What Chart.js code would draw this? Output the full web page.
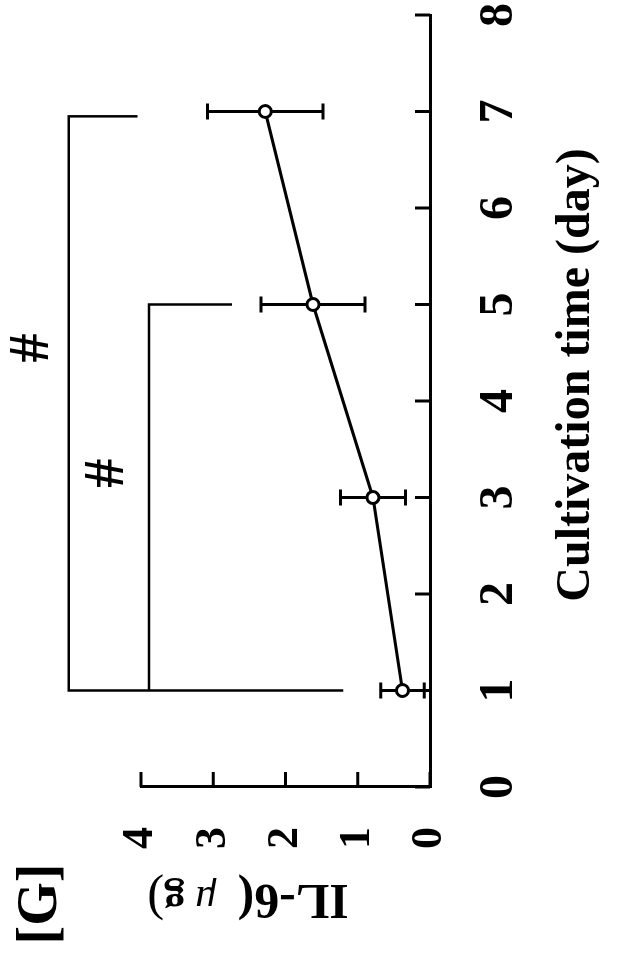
<!DOCTYPE html>
<html>
<head>
<meta charset="utf-8">
<title>IL-6 vs cultivation time</title>
<script src="https://cdn.jsdelivr.net/npm/chart.js@4.4.1/dist/chart.umd.min.js"></script>
<style>
    html, body { margin: 0; padding: 0; background: #fff; overflow: hidden; }
    /* the figure is printed sideways: draw it upright, then turn it a quarter left */
    #wrap {
        position: absolute; left: 0; top: 0;
        width: 957px; height: 617px;
        transform-origin: 0 0;
        transform: translate(0, 957px) rotate(-90deg);
    }
</style>
</head>
<body>
<div id="wrap"><canvas id="chart" width="957" height="617"></canvas></div>
<script>
// Data
const days = [1, 3, 5, 7];
const il6Mean = [0.38, 0.79, 1.62, 2.28];
const il6Err = [0.30, 0.45, 0.72, 0.80];

const dayTicks = [0, 1, 2, 3, 4, 5, 6, 7, 8];
const il6Ticks = [0, 1, 2, 3, 4];

// Significance brackets (day, IL-6)
const outerDays = [6.95, 6.95, 1, 1];
const outerLevels = [4.05, 5.0, 5.0, 1.2];
const innerDays = [5, 5, 1];
const innerLevels = [2.74, 3.89, 3.89];
const sigDays = [4.55, 3.25];
const sigLevels = [5.5, 4.45];

const SERIF = '"Liberation Serif", "DejaVu Serif", serif';

const toPoints = (xs, ys) => xs.map((x, i) => ({ x: x, y: ys[i] }));

// Inward tick marks on both axes
const inwardTicks = {
    id: 'inwardTicks',
    afterDraw(chart) {
        const { ctx, chartArea: a, scales: { x, y } } = chart;
        ctx.save();
        ctx.strokeStyle = '#000';
        ctx.lineWidth = 3;
        ctx.beginPath();
        dayTicks.forEach(v => {
            const px = x.getPixelForValue(v);
            ctx.moveTo(px, a.bottom);
            ctx.lineTo(px, a.bottom - 15);
        });
        il6Ticks.forEach(v => {
            const py = y.getPixelForValue(v);
            ctx.moveTo(a.left, py);
            ctx.lineTo(a.left + 15, py);
        });
        ctx.stroke();
        ctx.restore();
    }
};

// Error bars under the points
const errorBars = {
    id: 'errorBars',
    beforeDatasetsDraw(chart) {
        const { ctx, scales: { x, y } } = chart;
        ctx.save();
        ctx.strokeStyle = '#000';
        ctx.lineWidth = 3;
        ctx.beginPath();
        days.forEach((d, i) => {
            const px = x.getPixelForValue(d);
            const top = y.getPixelForValue(il6Mean[i] + il6Err[i]);
            const bot = y.getPixelForValue(Math.max(0, il6Mean[i] - il6Err[i]));
            ctx.moveTo(px, top);
            ctx.lineTo(px, bot);
            ctx.moveTo(px - 8, top);
            ctx.lineTo(px + 8, top);
            ctx.moveTo(px - 8, bot);
            ctx.lineTo(px + 8, bot);
        });
        ctx.stroke();
        ctx.restore();
    }
};

// Titles, panel letter and significance marks
const labels = {
    id: 'labels',
    afterDraw(chart) {
        const { ctx, scales: { x, y } } = chart;
        ctx.save();
        ctx.fillStyle = '#000';
        ctx.textBaseline = 'middle';
        ctx.textAlign = 'center';

        ctx.font = 'bold 48px ' + SERIF;
        ctx.fillText('Cultivation time (day)', 582, 577);

        ctx.font = 'bold 56px ' + SERIF;
        ctx.fillText('[G]', 53, 42);

        ctx.font = 'bold 58px ' + SERIF;
        sigDays.forEach((d, i) => {
            ctx.fillText('#', x.getPixelForValue(d), y.getPixelForValue(sigLevels[i]));
        });

        // y title with mixed fonts, turned like a normal y-axis title
        const parts = [
            ['IL-6(', 'bold 50px ' + SERIF],
            ['  \u03bc', 'italic 42px ' + SERIF],
            [' g', 'bold 42px ' + SERIF],
            [')', '50px ' + SERIF]
        ];
        let total = 0;
        parts.forEach(p => { ctx.font = p[1]; total += ctx.measureText(p[0]).width; });
        ctx.translate(59, 248);
        ctx.rotate(-Math.PI / 2);
        ctx.textAlign = 'left';
        let cx = -total / 2;
        parts.forEach(p => {
            ctx.font = p[1];
            ctx.fillText(p[0], cx, 0);
            cx += ctx.measureText(p[0]).width;
        });
        ctx.restore();
    }
};

const bracketStyle = {
    borderColor: '#000',
    borderWidth: 2.5,
    pointRadius: 0,
    fill: false,
    tension: 0,
    clip: false
};

new Chart(document.getElementById('chart'), {
    type: 'line',
    data: {
        datasets: [
            {
                label: 'IL-6',
                data: toPoints(days, il6Mean),
                borderColor: '#000',
                borderWidth: 3,
                pointRadius: 6,
                pointBorderWidth: 3,
                pointBackgroundColor: '#fff',
                pointBorderColor: '#000',
                tension: 0
            },
            Object.assign({ label: 'day 1 vs day 7', data: toPoints(outerDays, outerLevels) }, bracketStyle),
            Object.assign({ label: 'day 1 vs day 5', data: toPoints(innerDays, innerLevels) }, bracketStyle)
        ]
    },
    options: {
        responsive: false,
        animation: false,
        devicePixelRatio: 1,
        layout: { padding: { left: 0, top: 141, right: 15, bottom: 0 } },
        plugins: {
            legend: { display: false },
            tooltip: { enabled: false }
        },
        scales: {
            x: {
                type: 'linear',
                min: 0,
                max: 8,
                afterBuildTicks: s => { s.ticks = dayTicks.map(v => ({ value: v })); },
                afterFit: s => { s.height = 187; s.paddingLeft = 0; s.paddingRight = 0; },
                grid: { display: false, drawTicks: false },
                border: { display: true, color: '#000', width: 3 },
                ticks: {
                    color: '#000',
                    padding: 41,
                    maxRotation: 0,
                    autoSkip: false,
                    font: { family: SERIF, size: 48, weight: 'bold' }
                }
            },
            y: {
                type: 'linear',
                min: 0,
                max: 4,
                afterBuildTicks: s => { s.ticks = il6Ticks.map(v => ({ value: v })); },
                afterFit: s => { s.width = 170; s.paddingTop = 0; s.paddingBottom = 0; },
                grid: { display: false, drawTicks: false },
                border: { display: true, color: '#000', width: 3 },
                ticks: {
                    color: '#000',
                    padding: 40,
                    autoSkip: false,
                    font: { family: SERIF, size: 44, weight: 'bold' }
                }
            }
        }
    },
    plugins: [errorBars, inwardTicks, labels]
});
</script>
</body>
</html>
